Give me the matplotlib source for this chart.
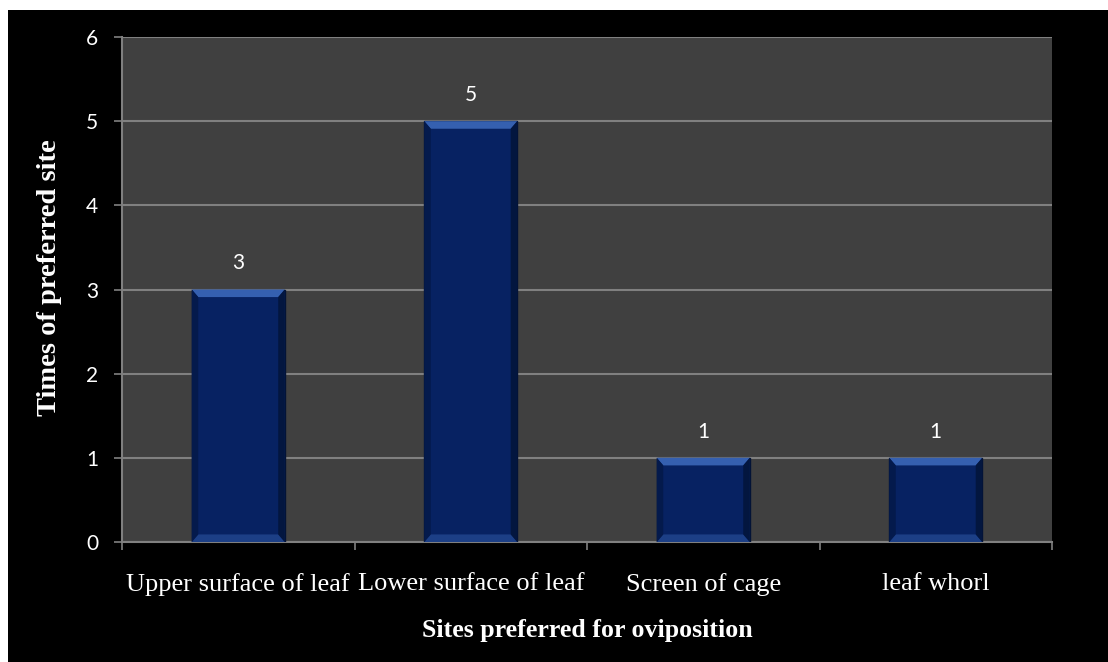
import matplotlib
matplotlib.use("Agg")
import matplotlib.pyplot as plt
from matplotlib.patches import Rectangle, Polygon

categories = ["Upper surface of leaf", "Lower surface of leaf", "Screen of cage", "leaf whorl"]
values = [3, 5, 1, 1]
y_ticks = [0, 1, 2, 3, 4, 5, 6]

serif = "Liberation Serif"
sans = "Lato"

fig = plt.figure(figsize=(11.08, 6.62), dpi=100, facecolor="white")
# black chart area
fig.patches.append(Rectangle((8 / 1108, 0), 1 - 8 / 1108, 1 - 10 / 662,
                             transform=fig.transFigure, facecolor="black",
                             edgecolor="none", zorder=-10))

ax = fig.add_axes([122 / 1108, 1 - 542 / 662, (1052 - 122) / 1108, (542 - 37) / 662])
ax.set_zorder(1)
ax.set_facecolor("#404040")

x = list(range(len(categories)))
bar_w = 0.40
bars = ax.bar(x, values, width=bar_w, color="#072262", edgecolor="#031336",
              linewidth=1.0, zorder=3)

# bevel highlights on each bar
for b in bars:
    x0, w, h = b.get_x(), b.get_width(), b.get_height()
    dx = w * 0.07
    dy = 0.09
    top = Polygon([(x0, h), (x0 + w, h), (x0 + w - dx, h - dy), (x0 + dx, h - dy)],
                  closed=True, facecolor="#3560b0", edgecolor="none", zorder=4)
    bot = Polygon([(x0, 0), (x0 + w, 0), (x0 + w - dx, dy), (x0 + dx, dy)],
                  closed=True, facecolor="#1c3f86", edgecolor="none", zorder=4)
    left = Polygon([(x0, 0), (x0, h), (x0 + dx, h - dy), (x0 + dx, dy)],
                   closed=True, facecolor="#041a4c", edgecolor="none", zorder=4)
    right = Polygon([(x0 + w, 0), (x0 + w, h), (x0 + w - dx, h - dy), (x0 + w - dx, dy)],
                    closed=True, facecolor="#03163f", edgecolor="none", zorder=4)
    for p in (top, bot, left, right):
        ax.add_patch(p)
    ax.text(x0 + w / 2, h + 0.31, f"{h:g}", ha="center", va="center",
            color="white", fontsize=15, family=sans, zorder=5)

ax.set_xlim(-0.5, len(categories) - 0.5)
ax.set_ylim(0, 6)
ax.set_yticks(y_ticks)
ax.set_yticklabels([str(t) for t in y_ticks], family=sans, fontsize=15, color="white")

# category boundaries as ticks, labels centred between them
ax.set_xticks([i - 0.5 for i in range(len(categories) + 1)])
ax.set_xticklabels([])
ax.set_xticks(x, minor=True)
ax.set_xticklabels(categories, minor=True, family=serif, fontsize=19, color="white")
ax.tick_params(axis="x", which="minor", length=0, pad=22)
ax.tick_params(axis="x", which="major", length=6, color="#808080", width=1.2, direction="out")
ax.tick_params(axis="y", length=6, color="#808080", width=1.2, pad=11)

ax.yaxis.grid(True, color="#808080", linewidth=1.5, zorder=1)
ax.set_axisbelow(True)
for s in ("top", "right"):
    ax.spines[s].set_visible(False)
for s in ("left", "bottom"):
    ax.spines[s].set_color("#808080")
    ax.spines[s].set_linewidth(1.5)

ax.set_xlabel("Sites preferred for oviposition", family=serif, fontsize=18.6,
              fontweight="bold", color="white", va="center")
ax.xaxis.set_label_coords(0.5, (542 - 630) / 505)
ax.set_ylabel("Times of preferred site", family=serif, fontsize=20.5,
              fontweight="bold", color="white", va="center")
ax.yaxis.set_label_coords((50 - 122) / 930, (542 - 278) / 505)

fig.savefig("out.png", dpi=100, facecolor=fig.get_facecolor())
